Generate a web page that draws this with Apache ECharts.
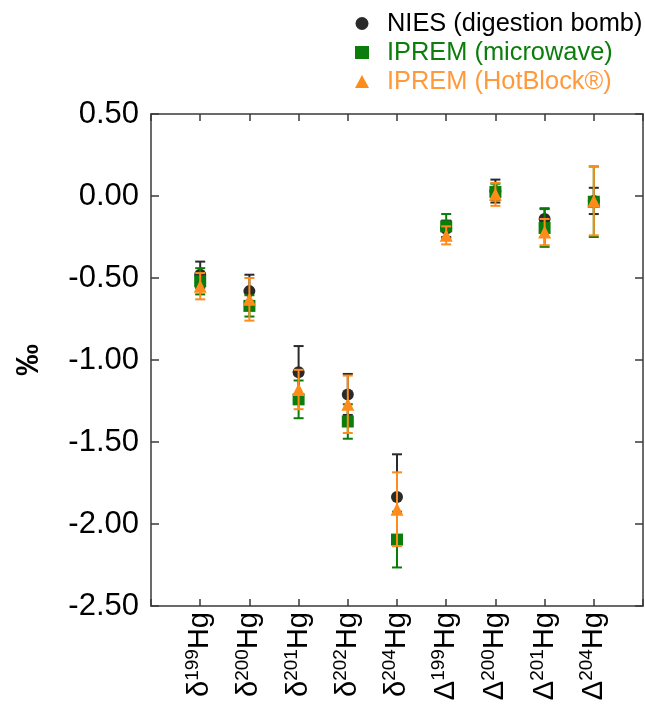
<!DOCTYPE html>
<html>
<head>
<meta charset="utf-8">
<script src="https://cdn.jsdelivr.net/npm/echarts@6/dist/echarts.min.js"></script>
<style>html,body{margin:0;padding:0;background:#fff}#c{width:645px;height:707px}</style>
</head>
<body>
<div id="c"></div>
<script>
// Categories (prefix symbol, mass number)
var catPrefix = ['δ','δ','δ','δ','δ','Δ','Δ','Δ','Δ'];
var catMass = ['199','200','201','202','204','199','200','201','204'];
var yTicks = [0.5, 0, -0.5, -1, -1.5, -2, -2.5];

// NIES (digestion bomb)
var niesVal = [-0.48, -0.58, -1.075, -1.21, -1.835, -0.20, 0.03, -0.14, -0.03];
var niesErr = [0.08, 0.10, 0.16, 0.125, 0.26, 0.05, 0.07, 0.065, 0.08];
// IPREM (microwave)
var mwVal = [-0.52, -0.67, -1.24, -1.375, -2.095, -0.185, 0.025, -0.195, -0.035];
var mwErr = [0.08, 0.065, 0.115, 0.105, 0.17, 0.075, 0.05, 0.115, 0.215];
// IPREM (HotBlock®)
var hbVal = [-0.55, -0.63, -1.18, -1.27, -1.91, -0.24, 0.01, -0.22, -0.03];
var hbErr = [0.08, 0.13, 0.12, 0.175, 0.225, 0.055, 0.07, 0.08, 0.21];

var names = ['NIES (digestion bomb)', 'IPREM (microwave)', 'IPREM (HotBlock®)'];
var markColors = ['#2a2a2a', '#0b7d0b', '#ff8c1a'];
var textColors = ['#000000', '#0b7d0b', '#ff9a3c'];
var symbols = ['circle', 'rect', 'triangle'];

function pts(vals) { return vals.map(function (v, i) { return [i + 1, v]; }); }
function errs(vals, e) { return vals.map(function (v, i) { return [i + 1, v - e[i], v + e[i]]; }); }

function errSeries(vals, e, color, z) {
  return {
    type: 'custom', z: z, silent: true,
    data: errs(vals, e),
    encode: { x: 0, y: [1, 2] },
    renderItem: function (params, api) {
      var x = api.value(0);
      var lo = api.coord([x, api.value(1)]);
      var hi = api.coord([x, api.value(2)]);
      var hw = 5;
      var st = { stroke: color, lineWidth: 2 };
      return {
        type: 'group',
        children: [
          { type: 'line', shape: { x1: lo[0], y1: lo[1], x2: hi[0], y2: hi[1] }, style: st },
          { type: 'line', shape: { x1: lo[0] - hw, y1: lo[1], x2: lo[0] + hw, y2: lo[1] }, style: st },
          { type: 'line', shape: { x1: hi[0] - hw, y1: hi[1], x2: hi[0] + hw, y2: hi[1] }, style: st }
        ]
      };
    }
  };
}

function scatterSeries(i, vals, z) {
  return {
    name: names[i], type: 'scatter', z: z,
    symbol: symbols[i], symbolSize: i === 2 ? 13 : 12,
    itemStyle: { color: markColors[i], opacity: 1 },
    data: pts(vals)
  };
}

var chart = echarts.init(document.getElementById('c'), null, { renderer: 'canvas' });
var axisLine = { show: true, onZero: false, lineStyle: { color: '#3a3a3a', width: 1.5 } };
var tickStyle = { color: '#3a3a3a', width: 1.5 };
var font = 'Liberation Sans, Arial, sans-serif';

chart.setOption({
  backgroundColor: '#ffffff',
  animation: false,
  textStyle: { fontFamily: font },
  legend: {
    orient: 'vertical', left: 350, top: 6, itemGap: 4,
    itemWidth: 14, itemHeight: 13,
    data: names.map(function (n, i) {
      return { name: n, icon: symbols[i], itemStyle: { color: markColors[i] },
        textStyle: { color: textColors[i], fontSize: 25.4, fontFamily: font, padding: [0, 0, 0, 13] } };
    })
  },
  grid: { left: 151, right: 2, top: 114, bottom: 101, containLabel: false },
  xAxis: [{
    type: 'value', min: 0, max: 10, interval: 1, position: 'bottom',
    axisLine: axisLine,
    axisTick: { show: true, inside: true, length: 7, lineStyle: tickStyle },
    splitLine: { show: false },
    axisLabel: {
      rotate: 90, margin: 6, fontFamily: font, color: '#000',
      formatter: function (v) {
        var i = Math.round(v) - 1;
        if (i < 0 || i >= catMass.length) return '';
        return '{p|' + catPrefix[i] + '}{s|' + catMass[i] + '}{h|Hg}';
      },
      rich: {
        p: { fontSize: 29, fontFamily: font, color: '#000' },
        s: { fontSize: 19, fontFamily: font, color: '#000', padding: [0, 0, 14, 0] },
        h: { fontSize: 29, fontFamily: font, color: '#000' }
      }
    }
  }, {
    type: 'value', min: 0, max: 10, interval: 1, position: 'top',
    axisLine: axisLine,
    axisTick: { show: true, inside: true, length: 7, lineStyle: tickStyle },
    axisLabel: { show: false }, splitLine: { show: false }
  }],
  yAxis: [{
    type: 'value', min: -2.5, max: 0.5, interval: 0.5, position: 'left',
    name: '‰', nameLocation: 'middle', nameGap: 106, nameRotate: 90,
    nameTextStyle: { fontSize: 32, fontWeight: 'bold', fontFamily: font, color: '#000' },
    axisLine: axisLine,
    axisTick: { show: true, inside: true, length: 8, lineStyle: tickStyle },
    splitLine: { show: false },
    axisLabel: { fontSize: 31, fontFamily: font, color: '#000', margin: 12,
      formatter: function (v) { return v.toFixed(2); } }
  }, {
    type: 'value', min: -2.5, max: 0.5, interval: 0.5, position: 'right',
    axisLine: axisLine,
    axisTick: { show: true, inside: true, length: 8, lineStyle: tickStyle },
    axisLabel: { show: false }, splitLine: { show: false }
  }],
  series: [
    errSeries(niesVal, niesErr, markColors[0], 2),
    scatterSeries(0, niesVal, 3),
    errSeries(mwVal, mwErr, markColors[1], 4),
    scatterSeries(1, mwVal, 5),
    errSeries(hbVal, hbErr, markColors[2], 6),
    scatterSeries(2, hbVal, 7)
  ]
});
</script>
</body>
</html>
